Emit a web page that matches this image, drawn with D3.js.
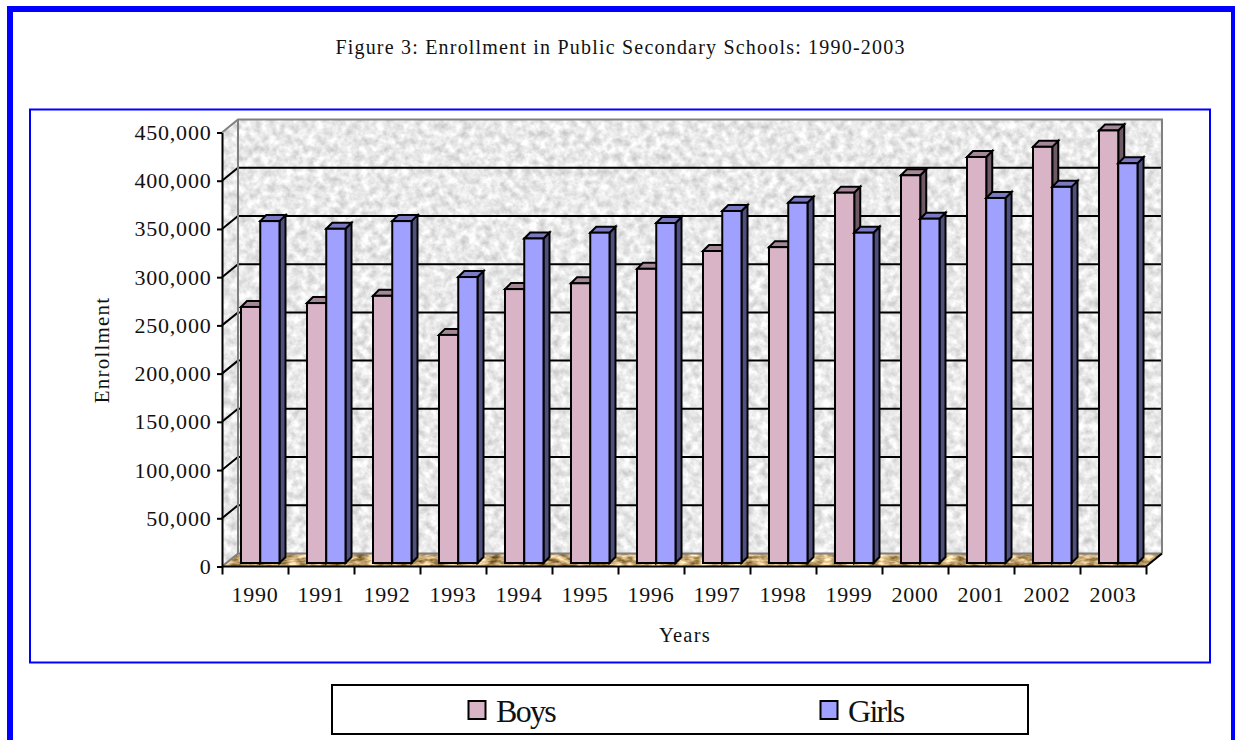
<!DOCTYPE html>
<html>
<head>
<meta charset="utf-8">
<script src="https://cdn.jsdelivr.net/npm/d3@7"></script>
<style>
  html, body { margin: 0; padding: 0; background: #fff; overflow: hidden; }
  text { font-family: "Liberation Serif", serif; fill: #111; }
</style>
</head>
<body>
<div id="visualization"></div>
<script>
const years = ["1990","1991","1992","1993","1994","1995","1996","1997","1998","1999","2000","2001","2002","2003"];
const boys = [265500, 269500, 277000, 236500, 284000, 290000, 305000, 323500, 327500, 384000, 402000, 421000, 431500, 448500];
const girls = [354500, 346500, 354500, 296500, 336500, 342500, 352500, 365000, 373500, 342500, 357000, 378500, 390000, 414500];
const seriesNames = ["Boys", "Girls"];
const yTicks = [0, 50000, 100000, 150000, 200000, 250000, 300000, 350000, 400000, 450000];

const colors = {
  Boys: { front: "#d9b3c6", top: "#a58898", side: "#6d5a64" },
  Girls: { front: "#a0a0ff", top: "#7a7ac2", side: "#505080" },
};

const width = 1235, height = 740;
// the 3d box: front plane and how far the back wall is pushed
const front = { left: 222, right: 1146, bottom: 566.5, top: 132.5 };
const depth = { x: 16, y: -13 };
const barDepth = { x: 6, y: -6 };

const svg = d3
  .select("#visualization")
  .append("svg")
  .attr("width", width)
  .attr("height", height)
  .style("display", "block");

const defs = svg.append("defs");

const wallFilter = defs.append("filter").attr("id", "stone")
  .attr("color-interpolation-filters", "sRGB")
  .attr("x", 0).attr("y", 0).attr("width", 1).attr("height", 1);
wallFilter.append("feTurbulence")
  .attr("type", "fractalNoise").attr("baseFrequency", 0.13)
  .attr("numOctaves", 4).attr("seed", 7);
wallFilter.append("feColorMatrix").attr("type", "matrix")
  .attr("values", "0.35 0 0 0 0.74  0.35 0 0 0 0.74  0.35 0 0 0 0.74  0 0 0 0 1");

const floorFilter = defs.append("filter").attr("id", "sand")
  .attr("color-interpolation-filters", "sRGB")
  .attr("x", 0).attr("y", 0).attr("width", 1).attr("height", 1);
floorFilter.append("feTurbulence")
  .attr("type", "fractalNoise").attr("baseFrequency", "0.09 0.22")
  .attr("numOctaves", 3).attr("seed", 3);
floorFilter.append("feColorMatrix").attr("type", "matrix")
  .attr("values", "1.1 0 0 0 0.22  1.1 0 0 0 0.1  1.1 0 0 0 -0.1  0 0 0 0 1");

const x = d3.scaleBand().domain(years).range([front.left, front.right]);
const xLin = d3.scaleLinear().domain([0, years.length]).range([front.left, front.right]);
const y = d3.scaleLinear().domain([0, 450000]).range([front.bottom, front.top]);
const xSeries = d3.scaleBand().domain(seriesNames).range([19, 57.5]);

// frames
svg.append("rect").attr("x", 10).attr("y", 9).attr("width", 1224).attr("height", 760)
  .attr("fill", "none").attr("stroke", "#0000ff").attr("stroke-width", 6);
svg.append("rect").attr("x", 30).attr("y", 109.5).attr("width", 1180).attr("height", 553)
  .attr("fill", "none").attr("stroke", "#0000ff").attr("stroke-width", 2);

svg.append("text").attr("x", 620.5).attr("y", 54)
  .attr("text-anchor", "middle").attr("font-size", 20).attr("letter-spacing", 1.2)
  .text("Figure 3: Enrollment in Public Secondary Schools: 1990-2003");

// walls and floor
const line = d3.line();
const backLeft = front.left + depth.x, backRight = front.right + depth.x;
const backTop = front.top + depth.y, backBottom = front.bottom + depth.y;

const clip = defs.append("clipPath").attr("id", "box-clip");
clip.append("path").attr("d", line([
  [front.left, front.top], [backLeft, backTop], [backRight, backTop],
  [backRight, backBottom], [front.right, front.bottom], [front.left, front.bottom],
]) + "Z");
const floorClip = defs.append("clipPath").attr("id", "floor-clip");
floorClip.append("path").attr("d", line([
  [front.left, front.bottom], [backLeft, backBottom], [backRight, backBottom], [front.right, front.bottom],
]) + "Z");

svg.append("g").attr("clip-path", "url(#box-clip)").append("rect")
  .attr("x", front.left).attr("y", backTop)
  .attr("width", backRight - front.left).attr("height", front.bottom - backTop)
  .attr("filter", "url(#stone)");
svg.append("g").attr("clip-path", "url(#floor-clip)").append("rect")
  .attr("x", front.left).attr("y", backBottom)
  .attr("width", backRight - front.left).attr("height", front.bottom - backBottom)
  .attr("filter", "url(#sand)");

// grid on the back wall and its return along the side wall
const grid = svg.append("g").attr("fill", "none").attr("stroke", "#000").attr("stroke-width", 2);
grid.selectAll("path")
  .data(yTicks.slice(1, -1))
  .join("path")
  .attr("d", (d) => line([
    [front.left, y(d)], [backLeft, y(d) + depth.y], [backRight, y(d) + depth.y],
  ]));

svg.append("path")
  .attr("d", line([
    [front.left, front.bottom], [backLeft, backBottom], [backRight, backBottom],
  ]))
  .attr("fill", "none").attr("stroke", "#808080").attr("stroke-width", 2);
svg.append("path")
  .attr("d", line([
    [front.left, front.top], [backLeft, backTop], [backRight, backTop], [backRight, backBottom],
  ]))
  .attr("fill", "none").attr("stroke", "#808080").attr("stroke-width", 2);
svg.append("path")
  .attr("d", line([[backLeft, backTop], [backLeft, backBottom]]))
  .attr("fill", "none").attr("stroke", "#808080").attr("stroke-width", 2);
svg.append("path")
  .attr("d", line([[front.right, front.bottom], [backRight, backBottom]]))
  .attr("fill", "none").attr("stroke", "#000").attr("stroke-width", 2);

// bars, each one a front face, a top and a side
const barBase = 3.5;
const barData = years.flatMap((year, i) => [
  { year, series: "Boys", value: boys[i] },
  { year, series: "Girls", value: girls[i] },
]);
const bars = svg.append("g").selectAll("g").data(barData).join("g")
  .attr("stroke", "#000").attr("stroke-width", 2).attr("stroke-linejoin", "miter");

bars.append("path")
  .attr("fill", (d) => colors[d.series].side)
  .attr("d", (d) => {
    const r = x(d.year) + xSeries(d.series) + xSeries.bandwidth();
    const t = y(d.value) - barBase, b = front.bottom - barBase;
    return line([[r, t], [r + barDepth.x, t + barDepth.y], [r + barDepth.x, b + barDepth.y], [r, b]]) + "Z";
  });
bars.append("path")
  .attr("fill", (d) => colors[d.series].top)
  .attr("d", (d) => {
    const l = x(d.year) + xSeries(d.series), r = l + xSeries.bandwidth();
    const t = y(d.value) - barBase;
    return line([[l, t], [l + barDepth.x, t + barDepth.y], [r + barDepth.x, t + barDepth.y], [r, t]]) + "Z";
  });
bars.append("rect")
  .attr("fill", (d) => colors[d.series].front)
  .attr("x", (d) => x(d.year) + xSeries(d.series))
  .attr("width", xSeries.bandwidth())
  .attr("y", (d) => y(d.value) - barBase)
  .attr("height", (d) => front.bottom - y(d.value));

// axes
const yAxis = svg.append("g")
  .attr("transform", `translate(${front.left}, 0)`)
  .call(d3.axisLeft(y).tickValues(yTicks).tickSize(5).tickSizeOuter(0).tickPadding(5.5)
    .tickFormat(d3.format(",")));
yAxis.selectAll("path, line").attr("stroke", "#000").attr("stroke-width", 2);
yAxis.selectAll("text").attr("font-size", 22).attr("letter-spacing", 0.8);

const tickAxis = svg.append("g")
  .attr("transform", `translate(0, ${front.bottom})`)
  .call(d3.axisBottom(xLin).ticks(years.length).tickSize(8).tickFormat(""));
tickAxis.selectAll("path, line").attr("stroke", "#000").attr("stroke-width", 2);
tickAxis.select(".domain").attr("d", `M${front.left},0H${front.right}`);

const labelAxis = svg.append("g")
  .attr("transform", `translate(0, ${front.bottom})`)
  .call(d3.axisBottom(x).tickSize(0).tickPadding(19.5));
labelAxis.select(".domain").remove();
labelAxis.selectAll("text").attr("font-size", 22).attr("letter-spacing", 0.8);

svg.append("text").attr("x", 685).attr("y", 642)
  .attr("text-anchor", "middle").attr("font-size", 20.5).attr("letter-spacing", 1.2)
  .text("Years");
svg.append("text")
  .attr("transform", "translate(109, 350) rotate(-90)")
  .attr("text-anchor", "middle").attr("font-size", 21).attr("letter-spacing", 1.2)
  .text("Enrollment");

// legend
svg.append("rect").attr("x", 332).attr("y", 685).attr("width", 696).attr("height", 49)
  .attr("fill", "#fff").attr("stroke", "#000").attr("stroke-width", 2);
const legend = svg.append("g").selectAll("g").data(seriesNames).join("g")
  .attr("transform", (d, i) => `translate(${i === 0 ? 468 : 820}, 0)`);
legend.append("rect").attr("x", 0.5).attr("y", 701).attr("width", 17).attr("height", 18)
  .attr("fill", (d) => colors[d].front).attr("stroke", "#000").attr("stroke-width", 2);
legend.append("text").attr("x", 28).attr("y", 722)
  .attr("font-size", 32).attr("letter-spacing", -1.7)
  .text((d) => d);
</script>
</body>
</html>
